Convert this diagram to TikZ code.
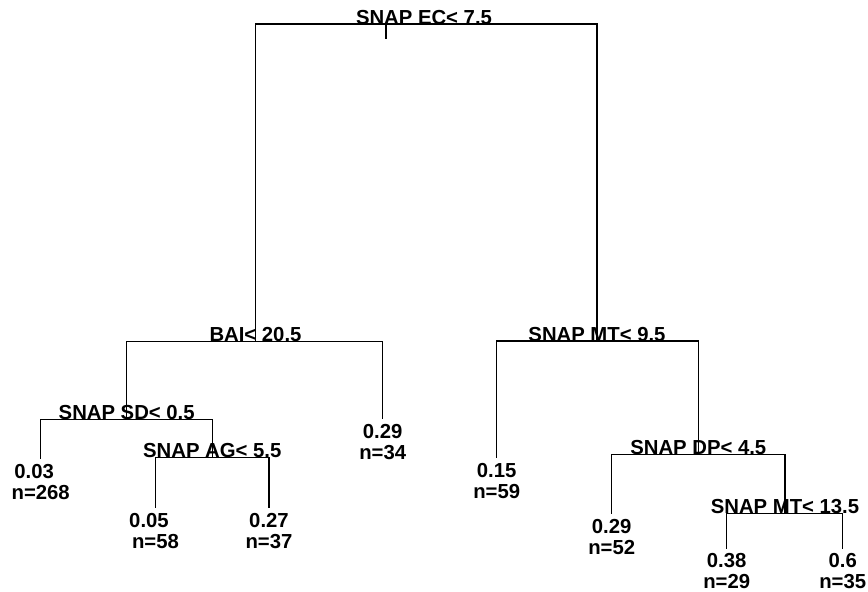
\documentclass[tikz,border=0pt]{standalone}
\usepackage{fontspec}
\setmainfont{Liberation Sans}
\begin{document}
\begin{tikzpicture}[x=1pt,y=-1pt,
  edge/.style={line width=1.4pt, line cap=rect},
  txt/.style={font=\fontsize{20.3}{21}\selectfont\bfseries},
  splitlbl/.style={txt, anchor=base, inner sep=0pt},
  leaf/.style={txt, anchor=north, inner sep=0pt, align=center}]
\fill[white] (0,0) rectangle (868,592);
\useasboundingbox (0,0) rectangle (868,592);
% split points
\coordinate (root) at (426,24);
\coordinate (bai) at (255.5,341.5);
\coordinate (sd) at (126.7,419.3);
\coordinate (ag) at (212.3,457.7);
\coordinate (mta) at (597,341);
\coordinate (dp) at (698.3,454.3);
\coordinate (mtb) at (785,513.3);
\coordinate (tick) at (386,24);
% split labels
\node[splitlbl] (rootlbl) at (424,24) {SNAP EC< 7.5};
\node[splitlbl] (bailbl) at (bai) {BAI< 20.5};
\node[splitlbl] (sdlbl) at (sd) {SNAP SD< 0.5};
\node[splitlbl] (aglbl) at (ag) {SNAP AG< 5.5};
\node[splitlbl] (mtalbl) at (mta) {SNAP MT< 9.5};
\node[splitlbl] (dplbl) at (dp) {SNAP DP< 4.5};
\node[splitlbl] (mtblbl) at (mtb) {SNAP MT< 13.5};
% leaves (placed 6pt below the end of their connector)
\node[leaf] (l1) at (40.7,464) {0.03\hspace*{13pt}\\n=268};
\node[leaf] (l2) at (155.5,513) {0.05\hspace*{13pt}\\n=58};
\node[leaf] (l3) at (269,513) {0.27\\n=37};
\node[leaf] (l4) at (382.7,424) {0.29\\n=34};
\node[leaf] (l5) at (496.7,463) {0.15\\n=59};
\node[leaf] (l6) at (611.7,519) {0.29\\n=52};
\node[leaf] (l7) at (726.7,553) {0.38\\n=29};
\node[leaf] (l8) at (842.7,553) {0.6\\n=35};
% edges
\draw[edge] (root) -| (bai);
\draw[edge] (root) -| (mta);
\draw[edge] (tick) -- ++(0,14);
\draw[edge] (bai) -| (sd);
\draw[edge] (bai) -| ([yshift=6pt]l4.north);
\draw[edge] (sd) -| ([yshift=6pt]l1.north);
\draw[edge] (sd) -| (ag);
\draw[edge] (ag) -| ([yshift=6pt]l2.north);
\draw[edge] (ag) -| ([yshift=6pt]l3.north);
\draw[edge] (mta) -| ([yshift=6pt]l5.north);
\draw[edge] (mta) -| (dp);
\draw[edge] (dp) -| ([yshift=6pt]l6.north);
\draw[edge] (dp) -| (mtb);
\draw[edge] (mtb) -| ([yshift=5pt]l7.north);
\draw[edge] (mtb) -| ([yshift=5pt]l8.north);
\end{tikzpicture}
\end{document}
